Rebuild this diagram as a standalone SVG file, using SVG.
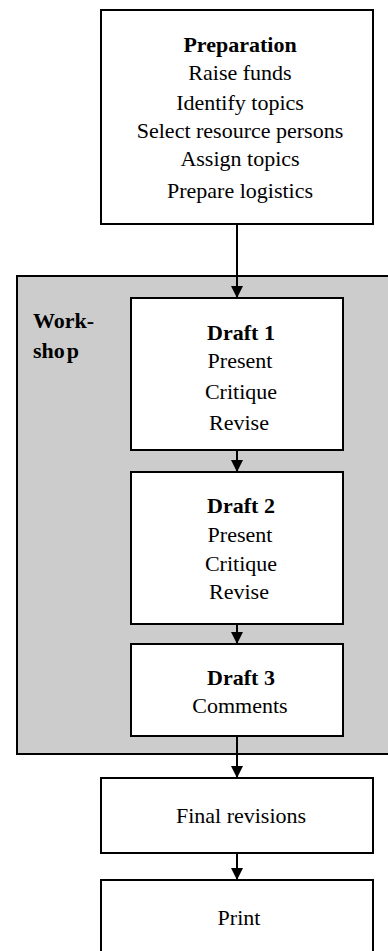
<svg xmlns="http://www.w3.org/2000/svg" width="388" height="951" viewBox="0 0 388 951">
<style>
.box{fill:#fff;stroke:#000;stroke-width:2}
.t{font-family:"Liberation Serif","Times New Roman",serif;font-size:22px;fill:#000;text-anchor:middle}
.b{font-weight:bold}
.l{text-anchor:start}
.c{stroke:#000;stroke-width:2;fill:none}
</style>
<defs>
<marker id="ah" markerWidth="12" markerHeight="12" refX="12" refY="6" orient="auto" markerUnits="userSpaceOnUse">
<path d="M0,0 L12,6 L0,12 Z" fill="#000"/>
</marker>
</defs>
<g id="workshop">
<rect x="17" y="276" width="380" height="478" fill="#cccccc" stroke="#000" stroke-width="2"/>
<text class="t b l" x="33" y="328">Work-</text>
<text class="t b l" x="33" y="358">sho<tspan dx="2">p</tspan></text>
</g>
<g id="preparation">
<rect class="box" x="101" y="10" width="272" height="214"/>
<text class="t b" x="240" y="52">Preparation</text>
<text class="t" x="240" y="80">Raise funds</text>
<text class="t" x="240" y="110">Identify topics</text>
<text class="t" x="240" y="138">Select resource persons</text>
<text class="t" x="240" y="166">Assign topics</text>
<text class="t" x="240" y="198">Prepare logistics</text>
</g>
<g id="draft1">
<rect class="box" x="131" y="298" width="212" height="152"/>
<text class="t b" x="241" y="340">Draft 1</text>
<text class="t" x="240" y="368">Present</text>
<text class="t" x="241" y="399">Critique</text>
<text class="t" x="239" y="430">Revise</text>
</g>
<g id="draft2">
<rect class="box" x="131" y="472" width="212" height="152"/>
<text class="t b" x="241" y="513">Draft 2</text>
<text class="t" x="240" y="542">Present</text>
<text class="t" x="241" y="571">Critique</text>
<text class="t" x="239" y="599">Revise</text>
</g>
<g id="draft3">
<rect class="box" x="131" y="644" width="212" height="92"/>
<text class="t b" x="241" y="685">Draft 3</text>
<text class="t" x="240" y="713">Comments</text>
</g>
<g id="final">
<rect class="box" x="101" y="778" width="272" height="75"/>
<text class="t" x="241" y="823">Final revisions</text>
</g>
<g id="print">
<rect class="box" x="101" y="880" width="272" height="90"/>
<text class="t" x="239" y="925">Print</text>
</g>
<g id="connectors">
<line class="c" x1="237" y1="224" x2="237" y2="298" marker-end="url(#ah)"/>
<line class="c" x1="237" y1="450" x2="237" y2="472" marker-end="url(#ah)"/>
<line class="c" x1="237" y1="624" x2="237" y2="644" marker-end="url(#ah)"/>
<line class="c" x1="237" y1="736" x2="237" y2="778" marker-end="url(#ah)"/>
<line class="c" x1="237" y1="853" x2="237" y2="880" marker-end="url(#ah)"/>
</g>
</svg>
